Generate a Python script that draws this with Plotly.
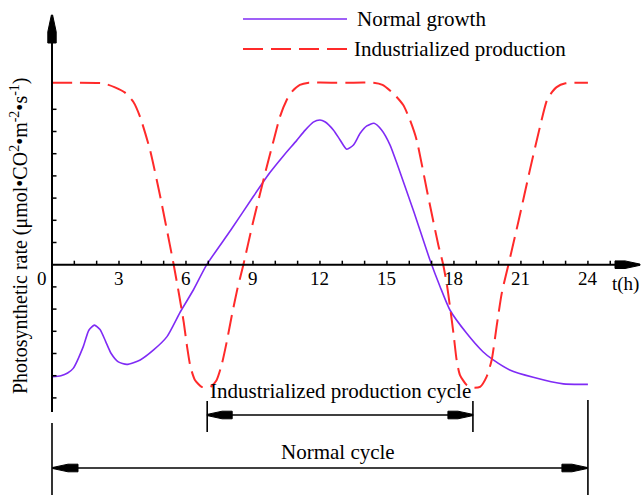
import plotly.graph_objects as go

# ---------------- data ----------------
t_normal = [0, 0.4, 0.7, 0.95, 1.4, 1.65, 1.9, 2.15, 2.4, 2.65, 2.97, 3.35, 3.95, 4.55, 5.15,
            5.75, 6.33, 6.93, 8.0, 9.0, 9.76, 10.36, 10.96, 11.33, 11.7, 12.0, 12.22, 12.6,
            12.9, 13.2, 13.5, 13.8, 14.1, 14.42, 14.76, 15.14, 15.5, 16.2, 16.93, 17.38,
            17.82, 18.57, 19.3, 19.76, 20.5, 21.55, 22.9, 24.0]
v_normal = [-5.05, -5.0, -4.88, -4.67, -3.69, -2.95, -2.72, -2.92, -3.45, -4.0, -4.38, -4.49,
            -4.29, -3.84, -3.24, -2.12, -1.14, 0.0, 1.55, 3.05, 4.15, 4.9, 5.6, 6.05, 6.42,
            6.52, 6.44, 6.07, 5.62, 5.2, 5.39, 5.92, 6.25, 6.37, 6.07, 5.39, 4.41, 2.4, 0.2,
            -0.99, -2.04, -3.09, -3.92, -4.29, -4.74, -5.07, -5.37, -5.39]

t_ind = [0, 1.0, 2.3, 2.82, 3.27, 3.64, 3.94, 4.39, 4.8, 5.1, 5.45, 5.7, 5.9, 6.05, 6.2, 6.4,
         6.7, 7.07, 7.37, 7.6, 7.82, 8.05, 8.3, 8.57, 9.0, 9.54, 9.91, 10.21, 10.51, 10.74,
         11.1, 11.5, 12.5, 13.5, 14.4, 14.8, 15.28, 15.73, 16.03, 16.33, 16.8, 17.3, 17.52,
         17.7, 17.85, 17.98, 18.12, 18.27, 18.57, 18.87, 19.17, 19.46, 19.69, 19.91, 20.14,
         20.44, 20.9, 21.4, 21.85, 22.2, 22.6, 23.0, 24.0]
v_ind = [8.2, 8.2, 8.17, 7.99, 7.75, 7.34, 6.67, 5.17, 3.3, 1.8, 0.0, -1.4, -2.6, -3.7, -4.6,
         -5.19, -5.5, -5.52, -5.2, -4.5, -3.5, -2.3, -1.1, 0.0, 1.9, 4.1, 5.54, 6.67, 7.42,
         7.79, 8.1, 8.2, 8.2, 8.2, 8.2, 8.1, 7.72, 7.19, 6.52, 5.62, 3.3, 0.89, 0.0, -1.0,
         -2.1, -3.1, -4.29, -4.97, -5.42, -5.54, -5.5, -5.05, -4.29, -2.79, -1.29, 0.0, 2.0,
         4.26, 6.2, 7.5, 8.0, 8.17, 8.2]

x_ticks = list(range(1, 26))
x_label_vals = [3, 6, 9, 12, 15, 18, 21, 24]
x_labels = ["3", "6", "9", "12", "15", "18", "21", "24"]
y_ticks = [-6, -5, -4, -3, -2, -1, 1, 2, 3, 4, 5, 6, 7]

ind_cycle = (6.95, 18.85)
normal_cycle = (0, 24)

series_names = ["Normal growth", "Industrialized production"]
colors = ["#7F2BF5", "#FF2A2A"]

# ------------- geometry -------------
OFF = 0                     # body margin removed by post_script
W, H = 643 - OFF, 495 - OFF
X0, Y0 = 52, 264.7          # window pixel position of (t=0, v=0)
PXT, PXV = 22.33, 22.2      # pixels per unit

def px(x):  # window pixel x -> paper
    return (x - OFF) / W

def py(y):  # window pixel y -> paper
    return 1 - (y - OFF) / H

def tv(x):  # window pixel x -> data t
    return (x - X0) / PXT

def vv(y):  # window pixel y -> data v
    return (Y0 - y) / PXV

FONT = "Liberation Serif, Times New Roman, serif"

fig = go.Figure()
fig.add_trace(go.Scatter(x=t_normal, y=v_normal, mode="lines", name=series_names[0],
                         line=dict(color=colors[0], width=1.6, shape="spline", smoothing=0.6),
                         showlegend=False))
fig.add_trace(go.Scatter(x=t_ind, y=v_ind, mode="lines", name=series_names[1],
                         line=dict(color=colors[1], width=2, shape="spline", smoothing=0.6,
                                   dash="20px,8px"),
                         showlegend=False))

shapes = []
ann = []

def line(x0, y0, x1, y1, w=2, color="black", dash=None, xref="x", yref="y"):
    d = dict(type="line", x0=x0, y0=y0, x1=x1, y1=y1, xref=xref, yref=yref,
             line=dict(color=color, width=w))
    if dash:
        d["line"]["dash"] = dash
    shapes.append(d)

def arrowhead(tip_x, tip_y, direction, length=25, half=3.8):
    taper = 0.6 * length
    if direction in ("left", "right"):
        s = -1 if direction == "right" else 1
        pts = [(tip_x, tip_y - 0.6), (tip_x + s * taper, tip_y - half),
               (tip_x + s * length, tip_y - half), (tip_x + s * length, tip_y + half),
               (tip_x + s * taper, tip_y + half), (tip_x, tip_y + 0.6)]
    else:
        pts = [(tip_x - 0.6, tip_y), (tip_x - half, tip_y + taper),
               (tip_x - half, tip_y + length), (tip_x + half, tip_y + length),
               (tip_x + half, tip_y + taper), (tip_x + 0.6, tip_y)]
    path = "M " + " L ".join(f"{tv(a):.4f},{vv(b):.4f}" for a, b in pts) + " Z"
    shapes.append(dict(type="path", path=path, xref="x", yref="y",
                       fillcolor="black", line=dict(color="black", width=1)))

def text(x, y, s, size=21, xanchor="center", angle=0):
    ann.append(dict(x=px(x), y=py(y), xref="paper", yref="paper", text=s,
                    xanchor=xanchor, yanchor="middle", textangle=angle, showarrow=False,
                    font=dict(size=size, family=FONT, color="black")))

# axes
x_end_px = 640
line(0, 0, tv(x_end_px - 5), 0, w=2)
arrowhead(x_end_px, Y0, "right")
y_top_px = 15
line(0, vv(412), 0, vv(y_top_px + 5), w=2)
arrowhead(X0, y_top_px, "up", length=28, half=4.2)

for t in x_ticks:
    line(t, 0, t, vv(Y0 - 4), w=1.5)
for v in y_ticks:
    line(0, v, tv(X0 + 4.5), v, w=1.5)

for val, lab in zip(x_label_vals, x_labels):
    ann.append(dict(x=val, y=vv(278), xref="x", yref="y", text=lab, showarrow=False,
                    xanchor="center", yanchor="middle",
                    font=dict(size=19, family=FONT, color="black")))
text(42, 278, "0", size=19)
text(641, 284, "t(h)", size=19, xanchor="right")

# y title
text(20, 236, "Photosynthetic rate (μmol•CO<sup>2</sup>•m<sup>-2</sup>•s<sup>-1</sup>)",
     size=20, angle=-90)

# industrialized production cycle
a, b = ind_cycle
yl = vv(415)
line(a, vv(401), a, vv(432), w=1.6)
line(b, vv(401), b, vv(432), w=1.6)
line(a, yl, b, yl, w=1.6)
arrowhead(X0 + a * PXT, 415, "left")
arrowhead(X0 + b * PXT, 415, "right")
text(X0 + (a + b) / 2 * PXT, 391, "Industrialized production cycle")

# normal cycle
a, b = normal_cycle
yl = vv(468)
line(a, vv(423), a, vv(495), w=1.6)
line(b, vv(400), b, vv(495), w=1.6)
line(a, yl, b, yl, w=1.6)
arrowhead(X0 + a * PXT + 1, 468, "left")
arrowhead(X0 + b * PXT - 1, 468, "right")
text(338, 452, "Normal cycle")

# legend (manual)
line(px(243), py(19), px(347), py(19), w=1.6, color=colors[0], xref="paper", yref="paper")
line(px(243), py(49), px(347), py(49), w=2, color=colors[1], dash="20px,8px",
     xref="paper", yref="paper")
text(355, 19, series_names[0], xanchor="left")
text(352, 49, series_names[1], xanchor="left")

fig.update_layout(
    width=W, height=H,
    margin=dict(l=0, r=0, t=0, b=0),
    paper_bgcolor="white", plot_bgcolor="white",
    xaxis=dict(range=[tv(OFF), tv(OFF + W)], visible=False, fixedrange=True),
    yaxis=dict(range=[vv(OFF + H), vv(OFF)], visible=False, fixedrange=True),
    shapes=shapes, annotations=ann, showlegend=False,
)

fig.write_html("out.html",
               config={"displayModeBar": False, "staticPlot": True},
               post_script="document.body.style.margin='0';"
                           "document.body.style.overflow='hidden';")
